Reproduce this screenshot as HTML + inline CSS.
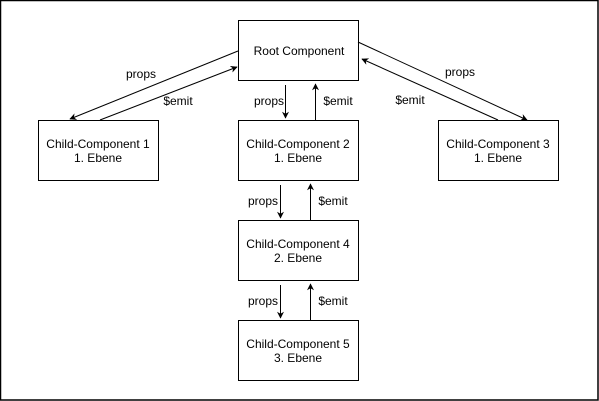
<!DOCTYPE html>
<html><head><meta charset="utf-8"><style>
html,body{margin:0;padding:0;background:#fff;}
svg{display:block;}
text{font-family:"Liberation Sans",Arial,sans-serif;font-size:12px;fill:#000;}
</style></head><body>
<svg width="599" height="401" viewBox="0 0 599 401">
<defs>
<marker id="a" viewBox="0 0 10 10" refX="9" refY="5" markerWidth="7" markerHeight="7" orient="auto" markerUnits="userSpaceOnUse">
<path d="M0,0 L10,5 L0,10 L3,5 Z" fill="#000"/>
</marker>
</defs>
<rect x="0.5" y="0.5" width="597.5" height="399.5" fill="#fff" stroke="#000" stroke-width="1.5"/>
<g fill="#fff" stroke="#000" stroke-width="1">
<rect x="238.5" y="20.5" width="120" height="60"/>
<rect x="38.5" y="120.5" width="120" height="60"/>
<rect x="238.5" y="120.5" width="120" height="60"/>
<rect x="438.5" y="120.5" width="120" height="60"/>
<rect x="238.5" y="220.5" width="120" height="60"/>
<rect x="238.5" y="320.5" width="120" height="60"/>
</g>
<g stroke="#000" stroke-width="1" fill="none" marker-end="url(#a)">
<line x1="238" y1="51" x2="70" y2="119"/>
<line x1="100" y1="120" x2="237" y2="67"/>
<line x1="285.5" y1="85" x2="285.5" y2="118"/>
<line x1="315.5" y1="120" x2="315.5" y2="84"/>
<line x1="358" y1="42" x2="527" y2="120"/>
<line x1="498" y1="120" x2="362" y2="59"/>
<line x1="280.5" y1="185" x2="280.5" y2="218"/>
<line x1="310.5" y1="220" x2="310.5" y2="184"/>
<line x1="280.5" y1="285" x2="280.5" y2="318"/>
<line x1="310.5" y1="320" x2="310.5" y2="284"/>
</g>
<g text-anchor="middle">
<text x="299" y="55">Root Component</text>
<text x="98" y="148">Child-Component 1</text><text x="98" y="162">1. Ebene</text>
<text x="298" y="148">Child-Component 2</text><text x="298" y="162">1. Ebene</text>
<text x="498" y="148">Child-Component 3</text><text x="498" y="162">1. Ebene</text>
<text x="298" y="248">Child-Component 4</text><text x="298" y="262">2. Ebene</text>
<text x="298" y="348">Child-Component 5</text><text x="298" y="362">3. Ebene</text>
<text x="141" y="78">props</text>
<text x="178" y="105">$emit</text>
<text x="269" y="105">props</text>
<text x="338" y="105">$emit</text>
<text x="460" y="76">props</text>
<text x="410" y="104">$emit</text>
<text x="263" y="205">props</text>
<text x="333" y="205">$emit</text>
<text x="263" y="305">props</text>
<text x="333" y="305">$emit</text>
</g>
</svg>
</body></html>
